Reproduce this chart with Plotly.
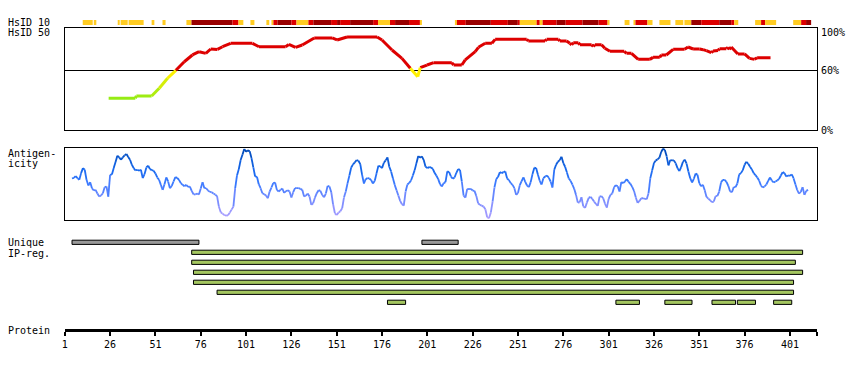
import plotly.graph_objects as go
from collections import defaultdict

# ---------------- data ----------------
# HsID 10 strip: residue ranges and level (0 = low/gold, 1 = mid/red, 2 = high/dark red)
hs10_start = [10.9, 17, 30.2, 31.8, 36.2, 48.9, 54.9, 68.1, 70.9, 93.5, 96.8, 103.4, 112.2, 115,
              116.1, 118.3, 126, 128.8, 135.4, 138.1, 147.9, 151.2, 152.9, 158.4, 171.1, 173.8,
              180.4, 183.2, 190.9, 196.9, 216.2, 217.3, 222.2, 236, 245.4, 250.9, 252, 261.3, 263,
              264.6, 272.3, 277.3, 286.6, 295.4, 300.4, 309.8, 314.7, 315.8, 322.4, 329, 337.8,
              342.8, 346.6, 352.1, 362, 368.6, 370.3, 381.8, 385.1, 387.3, 402.8, 407.2, 409.9]
hs10_end = [16.4, 18.4, 31.3, 35.7, 44.5, 50.4, 56.6, 70.9, 93.5, 96.8, 99.5, 105.6, 113.8, 116.1,
            118.3, 126, 128.8, 135.4, 138.1, 147.9, 151.2, 152.9, 158.4, 171.1, 173.8, 180.4,
            183.2, 190.9, 196.9, 198, 217.3, 222.2, 236, 245.4, 250.9, 252, 261.3, 263, 264.6,
            272.3, 277.3, 286.6, 295.4, 300.4, 301.5, 312.5, 315.8, 322.4, 325.2, 335.1, 342.2,
            346.6, 352.1, 362, 368.6, 370.3, 372.5, 385.1, 387.3, 393.4, 407.2, 409.9, 412.7]
hs10_level = [0, 0, 0, 0, 0, 0, 0, 0, 2, 1, 0, 0, 0, 0,
              1, 2, 1, 0, 1, 2, 1, 2, 1, 2, 1, 0,
              1, 2, 1, 0, 0, 1, 2, 1, 2, 1, 0, 1, 0,
              1, 2, 1, 2, 1, 0, 0, 0, 1, 0, 0, 0,
              0, 2, 1, 2, 1, 0, 0, 1, 0, 0, 1, 2]

# HsID 50 identity line (residue, percent)
hs50_res = [25.2, 39.9, 40.5, 48.9, 53.1, 57.7, 62.3, 66.9, 71.4, 75.1, 78.8, 81.5, 85.2, 88, 92.5,
            104.5, 108.1, 122.8, 124.6, 128.3, 132, 138.6, 148.5, 151.2, 156.7, 173.3, 176, 181.5,
            187, 191.6, 195.7, 197.1, 200.8, 204.5, 214.5, 215.5, 220, 221.9, 227.4, 229.2, 232.9,
            236.6, 238.4, 255.8, 256.7, 265.9, 266.8, 273.3, 274.1, 277.8, 279.6, 280.6, 281.5,
            284.3, 285.2, 291.6, 292.5, 293.4, 297.1, 298.9, 301.7, 309.6, 310.9, 313.6, 317.3,
            323.7, 325.5, 329.2, 330.1, 332.8, 336.6, 342.9, 344.8, 347.6, 351.2, 353.1, 354.9,
            357.6, 358.6, 361.3, 362.2, 365.9, 366.8, 367.7, 368.6, 372.3, 376, 378.7, 381.5,
            382.9, 390.3]
hs50_pct = [31.9, 31.9, 34.2, 34.2, 41.9, 52, 60, 68.6, 75.4, 78.7, 77, 81.4, 81, 83.7, 87.1,
            87.1, 83.7, 83.7, 86, 83, 85.4, 92.5, 92.5, 90.5, 93.5, 93.5, 90.5, 80.4,
            72, 62, 53.6, 62.6, 65.3, 67.7, 67.7, 65.3, 65.3, 70.4, 78.7, 83.1, 87.1,
            87.1, 91.1, 91.1, 89.4, 89.4, 91.1, 91.1, 89.4, 89.4, 87.1, 85.7, 87.7,
            87.7, 85.7, 85.7, 84, 85.7, 85.7, 82.1, 79.1, 79.1, 77.1, 77.1, 71,
            71, 73, 73, 75.4, 75.4, 81.1, 81.1, 83.4, 81.4, 81.4, 80.7, 79.7,
            77.7, 79.4, 80, 81.7, 81.7, 83, 81, 83.4, 76.4, 76.4, 72, 71,
            72.7, 72.7]

# Antigenicity score per residue, starting at residue 5
ag_first = 5
ag_score = [124, 126, 131, 125, 120, 140, 155, 150, 120, 103, 113, 95, 88, 90, 79, 70, 73, 80, 98, 100,
            70, 135, 136, 155, 173, 192, 187, 180, 187, 193, 197, 188, 180, 165, 155, 148, 150, 147, 150, 125,
            137, 157, 162, 152, 149, 147, 139, 127, 120, 105, 90, 107, 127, 115, 95, 102, 115, 128, 126, 120,
            110, 105, 101, 105, 99, 100, 87, 77, 76, 79, 76, 94, 113, 95, 95, 88, 84, 83, 79, 76,
            71, 40, 23, 19, 15, 13, 14, 22, 31, 40, 95, 133, 152, 179, 195, 212, 204, 208, 205, 185,
            157, 130, 129, 107, 95, 80, 77, 73, 65, 85, 97, 110, 112, 90, 85, 90, 94, 81, 86, 89,
            85, 67, 83, 95, 95, 95, 93, 90, 70, 73, 79, 70, 45, 50, 67, 80, 89, 87, 75, 68,
            79, 102, 100, 83, 47, 20, 15, 22, 26, 35, 67, 85, 110, 133, 157, 166, 172, 179, 177, 167,
            135, 109, 122, 125, 124, 119, 109, 117, 140, 162, 160, 155, 171, 178, 187, 159, 145, 125, 105, 89,
            73, 57, 47, 43, 85, 106, 111, 118, 133, 149, 170, 191, 186, 190, 179, 159, 155, 158, 157, 153,
            141, 132, 122, 107, 100, 110, 113, 145, 143, 130, 123, 127, 141, 152, 150, 115, 73, 67, 93, 92,
            93, 88, 87, 72, 50, 45, 43, 40, 32, 8, 5, 22, 55, 97, 122, 129, 143, 140, 143, 145,
            124, 119, 110, 105, 95, 75, 81, 104, 116, 127, 114, 103, 98, 113, 137, 156, 155, 135, 117, 106,
            125, 130, 133, 126, 115, 97, 150, 165, 174, 179, 189, 170, 159, 142, 124, 117, 106, 93, 75, 52,
            53, 68, 41, 36, 52, 66, 69, 63, 55, 48, 42, 70, 71, 65, 49, 37, 63, 75, 79, 98,
            104, 101, 85, 113, 110, 115, 122, 114, 108, 99, 87, 67, 51, 57, 65, 65, 63, 62, 80, 125,
            148, 170, 178, 181, 186, 203, 213, 209, 190, 163, 179, 178, 178, 169, 155, 146, 158, 174, 180, 168,
            145, 125, 112, 123, 139, 135, 110, 101, 105, 89, 69, 64, 59, 53, 55, 71, 72, 85, 112, 120,
            120, 114, 102, 85, 83, 98, 98, 109, 136, 140, 149, 165, 174, 168, 159, 151, 140, 134, 127, 118,
            103, 97, 100, 106, 117, 127, 118, 112, 115, 118, 123, 133, 143, 140, 130, 133, 132, 136, 125, 107,
            90, 79, 84, 98, 75, 87, 90]

# Unique region (grey) and IP-region (green) bars: residue ranges and row
uniq_start = [5, 198]
uniq_end = [75, 218]
uniq_row = [0, 0]
ip_start = [71, 71, 72, 72, 85, 179, 305, 332, 358, 372, 392]
ip_end = [408, 404, 408, 403, 403, 189, 318, 347, 371, 382, 402]
ip_row = [1, 2, 3, 4, 5, 6, 6, 6, 6, 6, 6]

protein_len = 416
ruler_ticks = [1, 26, 51, 76, 101, 126, 151, 176, 201, 226, 251, 276, 301, 326, 351, 376, 401, 416]
ruler_text = ["1", "26", "51", "76", "101", "126", "151", "176", "201", "226", "251", "276",
              "301", "326", "351", "376", "401", ""]

# ---------------- helpers ----------------
W, H = 850, 370
FONT = "DejaVu Sans Mono"


def ydom(top, bot):
    return [1 - bot / H, 1 - top / H]


XDOM = [62 / W, 817 / W]


def lerp(stops, v):
    if v <= stops[0][0]:
        c = stops[0][1]
    elif v >= stops[-1][0]:
        c = stops[-1][1]
    else:
        for (a, ca), (b, cb) in zip(stops[:-1], stops[1:]):
            if a <= v <= b:
                t = (v - a) / (b - a)
                c = tuple(ca[k] + (cb[k] - ca[k]) * t for k in range(3))
                break
    return "rgb(%d,%d,%d)" % tuple(int(round(x)) for x in c)


AG_STOPS = [(0, (178, 160, 255)), (60, (120, 140, 255)), (110, (60, 122, 255)),
            (150, (22, 104, 238)), (215, (0, 72, 180))]


def hs_color(v):
    if v >= 59.5:
        return "#dd0000"
    return lerp([(32, (150, 236, 20)), (57, (255, 240, 0))], v)


def colored_segments(xs, ys, colfn, quant):
    groups = defaultdict(lambda: ([], []))
    for i in range(len(xs) - 1):
        v = (ys[i] + ys[i + 1]) / 2
        c = colfn(round(v / quant) * quant)
        gx, gy = groups[c]
        gx += [xs[i], xs[i + 1], None]
        gy += [ys[i], ys[i + 1], None]
    return groups


fig = go.Figure()

# HsID 10 strip
lvl_colors = ["#ffcc22", "#dd0000", "#990000"]
fig.add_trace(go.Bar(
    orientation="h", y=[0] * len(hs10_start),
    x=[e - s for s, e in zip(hs10_start, hs10_end)], base=hs10_start, width=1,
    marker=dict(color=[lvl_colors[l] for l in hs10_level], line=dict(width=0)),
    xaxis="x4", yaxis="y", hoverinfo="skip"))

# HsID 50 line
for c, (gx, gy) in colored_segments(hs50_res, hs50_pct, hs_color, 1).items():
    fig.add_trace(go.Scatter(x=gx, y=gy, mode="lines", line=dict(color=c, width=3),
                             xaxis="x2", yaxis="y2", hoverinfo="skip", connectgaps=False))

# Antigenicity line
ag_res = list(range(ag_first, ag_first + len(ag_score)))
for c, (gx, gy) in colored_segments(ag_res, ag_score, lambda v: lerp(AG_STOPS, v), 5).items():
    fig.add_trace(go.Scatter(x=gx, y=gy, mode="lines", line=dict(color=c, width=1.8),
                             xaxis="x3", yaxis="y3", hoverinfo="skip", connectgaps=False))

# Unique / IP-region bars
fig.add_trace(go.Bar(
    orientation="h", y=uniq_row, x=[e - s for s, e in zip(uniq_start, uniq_end)], base=uniq_start,
    width=0.42, marker=dict(color="#999999", line=dict(color="black", width=1)),
    xaxis="x", yaxis="y4", hoverinfo="skip"))
fig.add_trace(go.Bar(
    orientation="h", y=ip_row, x=[e - s for s, e in zip(ip_start, ip_end)], base=ip_start,
    width=0.42, marker=dict(color="#a4c660", line=dict(color="black", width=1)),
    xaxis="x", yaxis="y4", hoverinfo="skip"))

frame = dict(showline=True, mirror=True, linecolor="black", linewidth=1,
             showgrid=False, zeroline=False, ticks="", showticklabels=False)

fig.update_layout(
    width=W, height=H, margin=dict(l=0, r=0, t=0, b=0),
    paper_bgcolor="white", plot_bgcolor="white", showlegend=False, barmode="overlay",
    font=dict(family=FONT, size=10, color="black"),
    xaxis=dict(domain=XDOM, range=[1, protein_len], anchor="y4", showline=True, linecolor="black",
               linewidth=3, ticks="outside", ticklen=4, tickwidth=2, tickcolor="black",
               tickvals=ruler_ticks, ticktext=ruler_text, showgrid=False, zeroline=False,
               tickfont=dict(family=FONT, size=10, color="black")),
    xaxis2=dict(domain=XDOM, matches="x", anchor="y2", **frame),
    xaxis3=dict(domain=XDOM, matches="x", anchor="y3", **frame),
    xaxis4=dict(domain=XDOM, matches="x", anchor="y", visible=False),
    yaxis=dict(domain=ydom(20, 25), range=[-0.5, 0.5], visible=False),
    yaxis2=dict(domain=ydom(28, 130), range=[0, 102.5], showline=True, mirror=True,
                linecolor="black", linewidth=1, zeroline=False, ticks="", showticklabels=False,
                tickvals=[60], showgrid=True, gridcolor="black", gridwidth=1),
    yaxis3=dict(domain=ydom(148, 220), range=[0, 215], **frame),
    yaxis4=dict(domain=ydom(236, 329), range=[8.67, -0.63], visible=False),
)

labels = [("HsID 10", 3, 22.5), ("HsID 50", 3, 32.5), ("Antigen-", 3, 153.3), ("icity", 3, 163.3),
          ("Unique", 3, 243), ("IP-reg.", 3, 253), ("Protein", 3, 330),
          ("100%", 819, 32.7), ("60%", 819, 70.3), ("0%", 819, 130)]
for txt, px, py in labels:
    fig.add_annotation(text=txt, x=px / W, y=1 - py / H, xref="paper", yref="paper",
                       xanchor="left", yanchor="middle", showarrow=False,
                       font=dict(family=FONT, size=10, color="black"))

fig.write_html("out.html", post_script="document.body.style.margin='0';",
               config={"displayModeBar": False, "staticPlot": True})
